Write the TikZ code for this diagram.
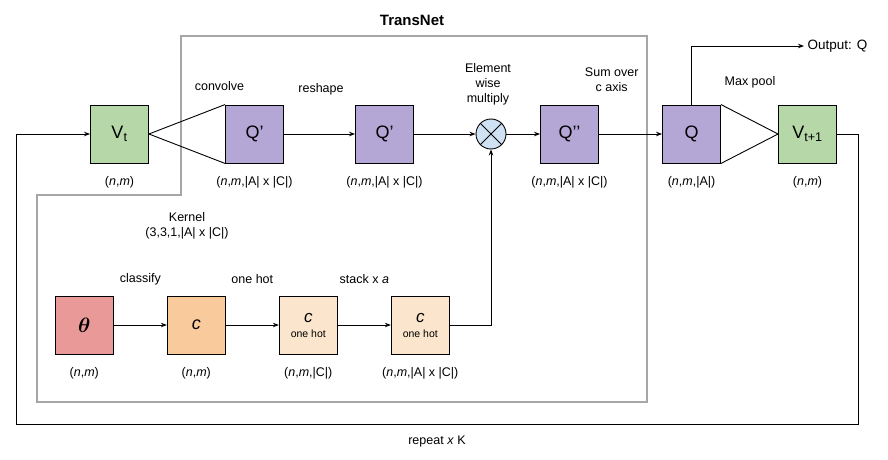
\documentclass[tikz,border=0pt]{standalone}
\usepackage{fontspec}
\setmainfont{Liberation Sans}
\usepackage{amsmath}
\usepackage{amsbsy}
\usetikzlibrary{arrows.meta}
\definecolor{vgreen}{HTML}{B6D7A8}
\definecolor{qpurple}{HTML}{B4A7D6}
\definecolor{thred}{HTML}{EA9999}
\definecolor{corange}{HTML}{F9CB9C}
\definecolor{ohcream}{HTML}{FCE5CD}
\definecolor{mulblue}{HTML}{CFE2F3}
\tikzstyle{arrow} = [line width=0.9pt, -{Stealth[length=6pt,width=4.5pt]}]
\tikzstyle{wire} = [line width=0.9pt]
\tikzstyle{box} = [draw, line width=0.9pt, minimum size=58pt, inner sep=0pt, align=center, font=\fontsize{18}{20}\selectfont]
\tikzstyle{vbox} = [box, fill=vgreen]
\tikzstyle{qbox} = [box, fill=qpurple]
\tikzstyle{ohbox} = [box, fill=ohcream, font=\fontsize{17}{14}\selectfont]
\tikzstyle{txt} = [font=\fontsize{12.5}{15}\selectfont, align=center]

\begin{document}
\begin{tikzpicture}[x=1pt, y=-1pt]
    \useasboundingbox (0,0) rectangle (888,460);
    % TransNet frame
    \draw [black!35, line width=2.2pt] (181,36) -- (647,36) -- (647,402) -- (37,402) -- (37,195) -- (181,195) -- cycle;
    \node (title) [font=\fontsize{15}{18}\selectfont\bfseries] at (412,20) {TransNet};

    % top row
    \node (vt)  [vbox] at (119.5,134)                  {V\textsubscript{t}};
    \node (qa)  [qbox, node distance=135pt, right of=vt] {Q’};
    \node (qb)  [qbox, node distance=130pt, right of=qa] {Q’};
    \node (mul) [draw, circle, fill=mulblue, line width=0.9pt, minimum size=30pt, inner sep=0pt,
                 node distance=106.5pt, right of=qb] {};
    \node (qc)  [qbox, node distance=78.5pt, right of=mul] {Q’’};
    \node (q)   [qbox, node distance=122pt, right of=qc]  {Q};
    \node (vt1) [vbox, node distance=116pt, right of=q]   {V\textsubscript{t+1}};
    \draw [wire] (mul.north east) -- (mul.south west);
    \draw [wire] (mul.north west) -- (mul.south east);

    % bottom row
    \node (th)  [box, fill=thred, font=\fontsize{22}{24}\selectfont] at (84.3,325) {$\boldsymbol{\theta}$};
    \node (c)   [box, fill=corange, node distance=112pt, right of=th] {\textit{c}};
    \node (oha) [ohbox, node distance=112pt, right of=c]
                {\textit{c}\\[1pt]{\fontsize{10.5}{12}\selectfont one hot}};
    \node (ohb) [ohbox, node distance=112pt, right of=oha]
                {\textit{c}\\[1pt]{\fontsize{10.5}{12}\selectfont one hot}};

    % shapes
    \node (dvt)  [txt, node distance=48pt, below of=vt]  {(\textit{n},\textit{m})};
    \node (dqa)  [txt, node distance=48pt, below of=qa]  {(\textit{n},\textit{m},|A| x |C|)};
    \node (dqb)  [txt, node distance=48pt, below of=qb]  {(\textit{n},\textit{m},|A| x |C|)};
    \node (dqc)  [txt, node distance=48pt, below of=qc]  {(\textit{n},\textit{m},|A| x |C|)};
    \node (dq)   [txt, node distance=48pt, below of=q]   {(\textit{n},\textit{m},|A|)};
    \node (dvt1) [txt, node distance=48pt, below of=vt1] {(\textit{n},\textit{m})};
    \node (dth)  [txt, node distance=48pt, below of=th]  {(\textit{n},\textit{m})};
    \node (dc)   [txt, node distance=48pt, below of=c]   {(\textit{n},\textit{m})};
    \node (doha) [txt, node distance=48pt, below of=oha] {(\textit{n},\textit{m},|C|)};
    \node (dohb) [txt, node distance=48pt, below of=ohb] {(\textit{n},\textit{m},|A| x |C|)};

    % operation labels
    \node (lconv)  [txt] at (219.5,86)  {convolve};
    \node (lresh)  [txt] at (321,89)    {reshape};
    \node (lmul)   [txt] at (488,84)    {Element\\wise\\multiply};
    \node (lsum)   [txt] at (611.7,80)  {Sum over\\c axis};
    \node (lpool)  [txt] at (750,82)    {Max pool};
    \node (lkern)  [txt] at (187,226)   {Kernel\\(3,3,1,|A| x |C|)};
    \node (lcls)   [txt] at (140.3,279) {classify};
    \node (lhot)   [txt] at (252.3,279) {one hot};
    \node (lstack) [txt] at (364.3,279) {stack x \textit{a}};
    \node (lrep)   [txt] at (437,441)   {repeat \textit{x} K};
    \node (out)    [txt, anchor=west, font=\fontsize{13.5}{16}\selectfont] at (804,46) {Output: Q};

    % connectors
    \draw [wire] (vt.east) -- (qa.north west);
    \draw [wire] (vt.east) -- (qa.south west);
    \draw [arrow] (qa) -- (qb);
    \draw [arrow] (qb) -- (mul);
    \draw [arrow] (mul) -- (qc);
    \draw [arrow] (qc) -- (q);
    \draw [wire] (q.north east) -- (vt1.west);
    \draw [wire] (q.south east) -- (vt1.west);
    \draw [arrow] (q.north) |- (out.west);
    \draw [arrow] (th) -- (c);
    \draw [arrow] (c) -- (oha);
    \draw [arrow] (oha) -- (ohb);
    \draw [arrow] (ohb.east) -| (mul.south);
    \coordinate (loopr) at (858,424);
    \coordinate (loopl) at (16,424);
    \draw [arrow] (vt1.east) -| (loopr) -- (loopl) |- (vt.west);
\end{tikzpicture}
\end{document}
